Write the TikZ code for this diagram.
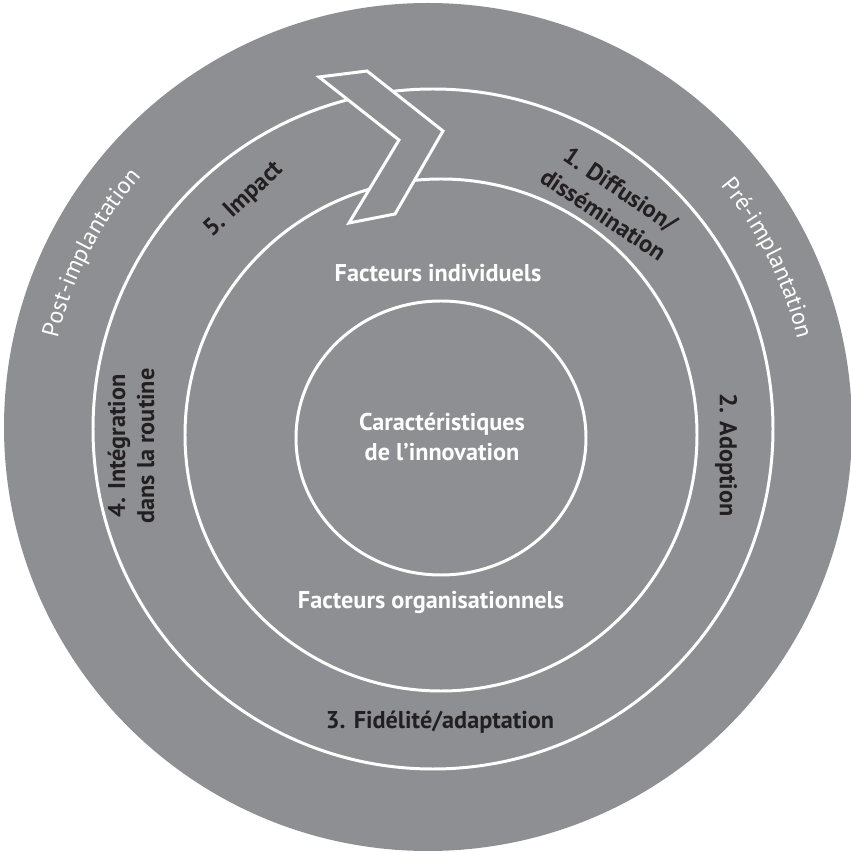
\documentclass[tikz,border=0pt]{standalone}
\usepackage{fontspec}
\setmainfont{PT Sans}
\usetikzlibrary{decorations.text}

\definecolor{discgrey}{RGB}{142,143,147}
\definecolor{labelink}{RGB}{35,31,32}

\begin{document}
\begin{tikzpicture}[x=0.02cm,y=0.02cm,
                    ring/.style={draw=white,line width=1.7pt},
                    inlabel/.style={text=white,align=center,
                      font=\bfseries\fontsize{13.8}{17.5}\selectfont},
                    steplabel/.style={text=labelink,align=center,
                      font=\bfseries\fontsize{13.8}{17.5}\selectfont},
                    phase/.style={decorate,decoration={text along path,
                      text align=center,text color=white,
                      text={|\fontsize{13.6}{16}\selectfont|#1}}}]
  \useasboundingbox (0,0) rectangle (851,853);

  % disc and rings
  \fill[discgrey] (428,426) circle[radius=424];
  \draw[ring] (433,424) circle[radius=340];
  \draw[ring] (441,418) circle[radius=256];
  \draw[ring] (441,415) ellipse[x radius=145,y radius=137];

  % head of the band
  \filldraw[fill=discgrey,ring,line join=miter]
    (319,776) -- (367,782) -- (443,722) -- (395,639) -- (349,630) -- (399,713) -- cycle;

  \node[inlabel,anchor=base] (indiv) at (438,571) {Facteurs individuels};
  \node[inlabel]             (innov) at (442,416) {Caractéristiques\\de l’innovation};
  \node[inlabel,anchor=base] (orga)  at (431,244) {Facteurs organisationnels};

  \node[steplabel,rotate=-34]         (diffus) at (612,651) {1. Diffusion/\\dissémination};
  \node[steplabel,rotate=-90]         (adopt)  at (726,398) {2. Adoption};
  \node[steplabel,anchor=base]        (fidel)  at (440,124) {3. Fidélité/adaptation};
  \node[steplabel,rotate=90,font=\bfseries\fontsize{13.8}{16.5}\selectfont]
                                      (integ)  at (131,407) {4. Intégration\\dans la routine};
  \node[steplabel,rotate=43]          (impact) at (244,653) {5. Impact};

  % phases along the outer band
  \path[phase=Post-implantation,shift={(430,425)}]
    (185:383) arc[start angle=185,end angle=120.4,radius=383];
  \path[phase=Pré-implantation,shift={(430,425)}]
    (56.7:378) arc[start angle=56.7,end angle=-3.3,radius=378];
\end{tikzpicture}
\end{document}
